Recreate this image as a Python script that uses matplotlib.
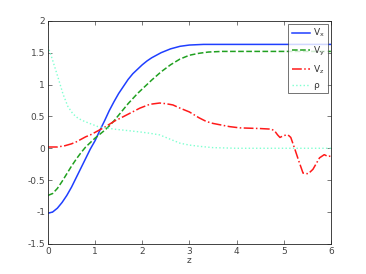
import matplotlib
matplotlib.use("Agg")
import matplotlib.pyplot as plt

plt.rcParams['axes.unicode_minus'] = False

# values
z_vx = [0.0, 0.1, 0.2, 0.3, 0.4, 0.5, 0.6, 0.7, 0.8, 0.9, 1.0, 1.1, 1.2, 1.3, 1.4, 1.5, 1.6, 1.7, 1.8, 1.9, 2.0, 2.1, 2.2, 2.4, 2.6, 2.8, 3.0, 3.3, 6.0]
vx = [-1.02, -1.0, -0.94, -0.85, -0.74, -0.61, -0.46, -0.31, -0.16, -0.01, 0.12, 0.28, 0.43, 0.59, 0.73, 0.86, 0.97, 1.08, 1.17, 1.24, 1.31, 1.37, 1.42, 1.5, 1.56, 1.6, 1.62, 1.63, 1.63]

z_vy = [0.0, 0.1, 0.2, 0.3, 0.4, 0.5, 0.6, 0.7, 0.8, 0.9, 1.0, 1.1, 1.2, 1.3, 1.4, 1.5, 1.6, 1.7, 1.8, 1.9, 2.0, 2.2, 2.4, 2.6, 2.8, 3.0, 3.2, 3.4, 3.7, 6.0]
vy = [-0.74, -0.71, -0.63, -0.52, -0.4, -0.28, -0.17, -0.07, 0.02, 0.09, 0.16, 0.22, 0.28, 0.35, 0.43, 0.52, 0.61, 0.7, 0.78, 0.86, 0.93, 1.07, 1.2, 1.31, 1.4, 1.46, 1.49, 1.51, 1.52, 1.52]

z_vz = [0.0, 0.2, 0.36, 0.5, 0.6, 0.7, 0.8, 0.9, 1.0, 1.1, 1.2, 1.31, 1.42, 1.53, 1.74, 1.95, 2.16, 2.37, 2.5, 2.65, 2.8, 3.0, 3.2, 3.36, 3.5, 3.64, 3.85, 4.07, 4.49, 4.74, 4.81, 4.87, 4.92, 5.0, 5.09, 5.15, 5.23, 5.32, 5.41, 5.52, 5.62, 5.76, 5.86, 5.94, 6.0]
vz = [0.02, 0.02, 0.04, 0.07, 0.1, 0.14, 0.18, 0.21, 0.25, 0.29, 0.33, 0.38, 0.43, 0.47, 0.55, 0.63, 0.69, 0.71, 0.7, 0.68, 0.63, 0.57, 0.48, 0.42, 0.39, 0.37, 0.34, 0.32, 0.31, 0.3, 0.27, 0.21, 0.17, 0.2, 0.21, 0.17, 0.0, -0.2, -0.39, -0.4, -0.33, -0.15, -0.1, -0.13, -0.12]

z_rho = [0.0, 0.1, 0.21, 0.32, 0.42, 0.53, 0.64, 0.75, 0.85, 1.06, 1.41, 1.91, 2.12, 2.37, 2.6, 2.8, 3.0, 3.22, 3.5, 4.0, 6.0]
rho = [1.6, 1.38, 1.12, 0.85, 0.66, 0.54, 0.47, 0.43, 0.4, 0.34, 0.3, 0.26, 0.24, 0.21, 0.14, 0.08, 0.05, 0.03, 0.01, 0.0, 0.0]

labels = ['V$_\\mathregular{x}$', 'V$_\\mathregular{y}$', 'V$_\\mathregular{z}$', 'ρ']

fig = plt.figure(figsize=(3.66, 2.74), dpi=100)
ax = fig.add_axes([0.131, 0.11, 0.773, 0.814])

ax.plot(z_vx, vx, '-', color='#1f3fff', lw=1.1, label=labels[0])
ax.plot(z_vy, vy, '--', color='#20a020', lw=1.1, label=labels[1])
ax.plot(z_vz, vz, '-.', color='#ff1a1a', lw=1.1, label=labels[2])
ax.plot(z_rho, rho, ':', color='#7fffd0', lw=1.0, label=labels[3])

ax.set_xlim(0, 6)
ax.set_ylim(-1.5, 2)
ax.set_xticks(range(0, 7))
ax.set_yticks([-1.5, -1, -0.5, 0, 0.5, 1, 1.5, 2])
ax.set_yticklabels(['-1.5', '-1', '-0.5', '0', '0.5', '1', '1.5', '2'])
ax.tick_params(direction='in', top=True, right=True, labelsize=6.5, length=3, width=0.5, colors='#444444', pad=2)
for s in ax.spines.values():
    s.set_linewidth(0.6)
    s.set_color('#222222')
ax.set_xlabel('z', fontsize=6.5, labelpad=0, color='#444444')

leg = ax.legend(loc='upper right', fontsize=6.5, frameon=True, fancybox=False,
                borderaxespad=0.3, handlelength=2.1, handletextpad=0.3,
                labelspacing=0.6, borderpad=0.35)
leg.get_frame().set_edgecolor('#333333')
leg.get_frame().set_linewidth(0.6)
for t in leg.get_texts():
    t.set_color('#333333')

fig.savefig('out.png', dpi=100)
